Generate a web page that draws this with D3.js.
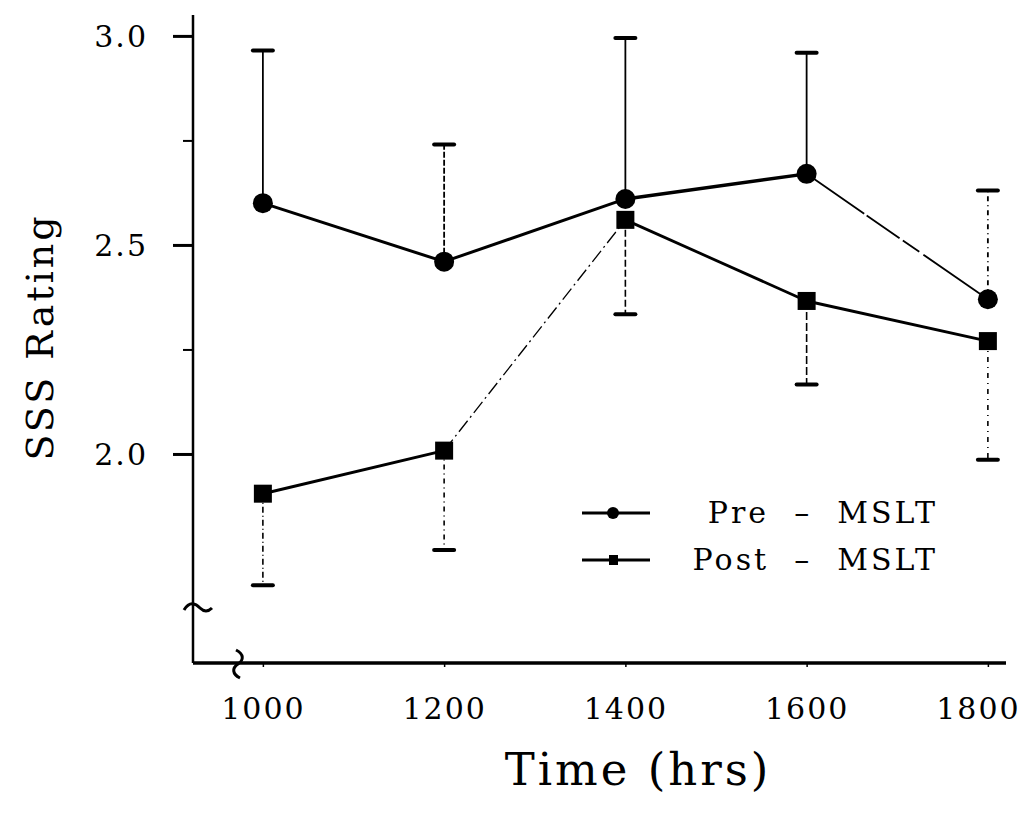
<!DOCTYPE html>
<html><head><meta charset="utf-8">
<script src="https://cdn.jsdelivr.net/npm/d3@7"></script>
<style>
html,body{margin:0;padding:0;background:#fff;}
svg{display:block;}
text{font-family:"DejaVu Serif","Liberation Serif",serif;fill:#000;}
</style></head>
<body>
<svg id="chart" width="1027" height="821"></svg>
<script>
// ---- data ----
const times = [1000, 1200, 1400, 1600, 1800];
const preMean = [2.60, 2.46, 2.61, 2.67, 2.37];
const preUpper = [2.965, 2.74, 2.995, 2.96, 2.63];
const postMean = [1.905, 2.008, 2.56, 2.366, 2.27];
const postLower = [1.686, 1.77, 2.334, 2.166, 1.986];
const yMajorTicks = [2.0, 2.5, 3.0];
const yMinorTicks = [2.25, 2.75];
const xTickLabels = ["1000", "1200", "1400", "1600", "1800"];
const seriesNames = ["Pre  \u2013  MSLT", "Post  \u2013  MSLT"];

const FONT = "DejaVu Serif";
const svg = d3.select("#chart");
const x = d3.scaleLinear().domain([924, 1820]).range([194, 1006]);
const y = d3.scaleLinear().domain([1.5, 3.05]).range([663, 15]);

// y axis
const yMaj = svg.append("g").attr("transform", "translate(193,0)")
  .call(d3.axisLeft(y).tickValues(yMajorTicks).tickSize(20).tickPadding(25).tickFormat(d3.format(".1f")));
yMaj.select(".domain").remove();
yMaj.selectAll(".tick line").attr("stroke", "#000").attr("stroke-width", 3);
yMaj.selectAll(".tick text").attr("font-size", 30).attr("letter-spacing", 2)
  .attr("font-family", FONT).attr("dy", "0.36em");
const yMin = svg.append("g").attr("transform", "translate(193,0)")
  .call(d3.axisLeft(y).tickValues(yMinorTicks).tickSize(10).tickFormat(""));
yMin.select(".domain").remove();
yMin.selectAll(".tick line").attr("stroke", "#000").attr("stroke-width", 2);
svg.append("line").attr("x1", 193).attr("x2", 193).attr("y1", y(3.05)).attr("y2", y(1.5))
  .attr("stroke", "#000").attr("stroke-width", 2.5);

// x axis
const xAx = svg.append("g").attr("transform", "translate(0,663)")
  .call(d3.axisBottom(x).tickValues(times).tickSize(4).tickPadding(52).tickFormat((d, i) => xTickLabels[i]));
xAx.select(".domain").remove();
xAx.selectAll(".tick line").attr("stroke", "#000").attr("stroke-width", 1.5);
xAx.selectAll(".tick text").attr("font-size", 30).attr("letter-spacing", 2).attr("font-family", FONT).attr("dy", "0")
  .attr("dx", (d, i) => i === times.length - 1 ? -10 : 0);
svg.append("line").attr("x1", 193).attr("x2", x(1820)).attr("y1", 663).attr("y2", 663)
  .attr("stroke", "#000").attr("stroke-width", 3.5);

// axis break marks
svg.append("path").attr("d", "M184,610 C190,600 196,604 200,608 C204,612 208,612 212,608")
  .attr("fill", "none").attr("stroke", "#000").attr("stroke-width", 3);
svg.append("path").attr("d", "M236,650 C244,654 244,660 238,664 C232,668 232,674 240,678")
  .attr("fill", "none").attr("stroke", "#000").attr("stroke-width", 3);

// error bars
const capW = 10;
times.forEach((t, i) => {
  const dashPre = [null, "6,2", null, null, "5,4,1,4"][i];
  svg.append("line").attr("x1", x(t)).attr("x2", x(t)).attr("y1", y(preMean[i])).attr("y2", y(preUpper[i]))
    .attr("stroke", "#000").attr("stroke-width", 1.8).attr("stroke-dasharray", dashPre);
  svg.append("line").attr("x1", x(t) - capW).attr("x2", x(t) + capW).attr("y1", y(preUpper[i])).attr("y2", y(preUpper[i]))
    .attr("stroke", "#000").attr("stroke-width", 4).attr("stroke-linecap", "round");
  const dashPost = ["6,3,1,3", "5,4,1,4", "7,3", "8,3", "5,5,1,5"][i];
  svg.append("line").attr("x1", x(t)).attr("x2", x(t)).attr("y1", y(postMean[i])).attr("y2", y(postLower[i]))
    .attr("stroke", "#000").attr("stroke-width", 1.6).attr("stroke-dasharray", dashPost);
  svg.append("line").attr("x1", x(t) - capW).attr("x2", x(t) + capW).attr("y1", y(postLower[i])).attr("y2", y(postLower[i]))
    .attr("stroke", "#000").attr("stroke-width", 4).attr("stroke-linecap", "round");
});

// connecting segments
const preW = [3, 3, 3.5, 1.8], preD = [null, null, null, "70,3,40,4,20,5"];
const postW = [3, 1.3, 2.8, 3], postD = [null, "14,4,2,4", null, null];
for (let i = 0; i < times.length - 1; i++) {
  svg.append("line").attr("x1", x(times[i])).attr("y1", y(preMean[i])).attr("x2", x(times[i+1])).attr("y2", y(preMean[i+1]))
    .attr("stroke", "#000").attr("stroke-width", preW[i]).attr("stroke-dasharray", preD[i]);
  svg.append("line").attr("x1", x(times[i])).attr("y1", y(postMean[i])).attr("x2", x(times[i+1])).attr("y2", y(postMean[i+1]))
    .attr("stroke", "#000").attr("stroke-width", postW[i]).attr("stroke-dasharray", postD[i]);
}

// markers
svg.selectAll(".pre").data(times).enter().append("circle")
  .attr("cx", d => x(d)).attr("cy", (d, i) => y(preMean[i])).attr("r", 10).attr("fill", "#000");
svg.selectAll(".post").data(times).enter().append("rect")
  .attr("x", d => x(d) - 9).attr("y", (d, i) => y(postMean[i]) - 9).attr("width", 18).attr("height", 18).attr("fill", "#000");

// legend
const leg = [{y: 513, shape: "circle"}, {y: 560, shape: "square"}];
leg.forEach((l, i) => {
  svg.append("line").attr("x1", 582).attr("x2", 650).attr("y1", l.y).attr("y2", l.y).attr("stroke", "#000").attr("stroke-width", 3);
  if (l.shape === "circle") svg.append("circle").attr("cx", 613).attr("cy", l.y).attr("r", 6).attr("fill", "#000");
  else svg.append("rect").attr("x", 609).attr("y", l.y - 5).attr("width", 9).attr("height", 10).attr("fill", "#000");
  svg.append("text").attr("x", 938).attr("y", l.y + 10).attr("text-anchor", "end").attr("font-size", 30)
    .attr("font-family", FONT).attr("letter-spacing", 3).style("white-space", "pre").text(seriesNames[i]);
});

// axis titles
svg.append("text").attr("x", 638).attr("y", 785).attr("text-anchor", "middle").attr("font-size", 45)
  .attr("font-family", FONT).attr("letter-spacing", 3).text("Time (hrs)");
svg.append("text").attr("transform", "translate(53,337) rotate(-90)").attr("text-anchor", "middle")
  .attr("font-family", FONT).attr("font-size", 38).attr("letter-spacing", 3).text("SSS Rating");
</script>
</body></html>
